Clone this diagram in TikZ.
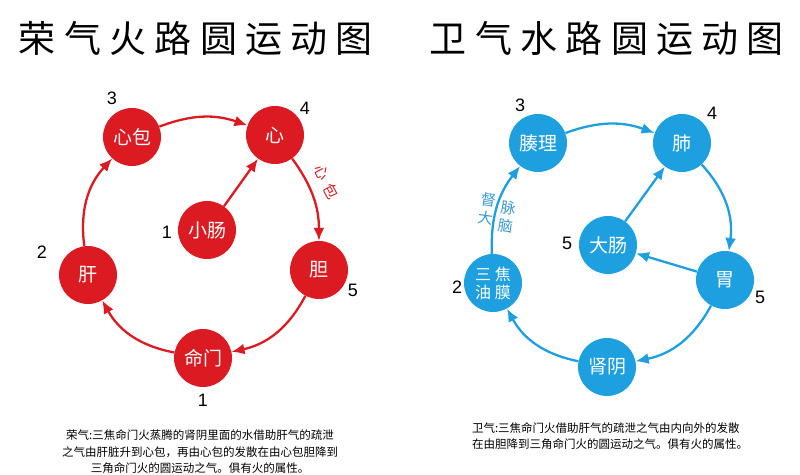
\documentclass[tikz,border=0pt]{standalone}
\usepackage{fontspec}
\usepackage{xcolor}
\setmainfont{Liberation Sans}
\newfontfamily\cjk{Noto Sans CJK SC}
\usetikzlibrary{arrows.meta}
\definecolor{yingred}{HTML}{DC1A22}
\definecolor{weiblue}{HTML}{1E9FDF}
\definecolor{labelblue}{HTML}{3A9ACF}

\tikzset{
  organ/.style={circle, fill=#1, minimum size=58pt, inner sep=0pt,
                text=white, font=\cjk\fontsize{19}{20}\selectfont, align=center},
  num/.style={font=\fontsize{18}{18}\selectfont},
  flow/.style={draw=#1, line width=2.3pt, -{Latex[length=13pt,width=11pt]}},
  title/.style={font=\cjk\fontsize{37}{37}\selectfont},
  note/.style={font=\cjk\fontsize{11.5}{16.5}\selectfont},
  pathlabel/.style={text=#1, inner sep=0pt, font=\cjk\fontsize{15}{15}\selectfont}
}

\begin{document}
\begin{tikzpicture}[x=1pt,y=1pt]
                \useasboundingbox (0,0) rectangle (800,474);

                % titles
                \node[title] (ytitle) at (196,436) {荣 气 火 路 圆 运 动 图};
                \node[title] (wtitle) at (607,436) {卫 气 水 路 圆 运 动 图};

                % ying qi, fire route
                \node[organ=yingred] (xinbao) at (132,337) {心包};
                \node[organ=yingred] (xin) at (275,339) {心};
                \node[organ=yingred] (xiaochang) at (207,244) {小肠};
                \node[organ=yingred] (gan) at (88,199) {肝};
                \node[organ=yingred] (dan) at (319,204) {胆};
                \node[organ=yingred] (mingmen) at (203,116) {命门};

                \node[num] (n3) at (112,376) {3};
                \node[num] (n4) at (305,366) {4};
                \node[num] (n1a) at (167,242) {1};
                \node[num] (n2) at (42,222) {2};
                \node[num] (n5) at (353,184) {5};
                \node[num] (n1b) at (203,74) {1};

                \draw[flow=yingred] (xinbao) to[bend left=20] (xin);
                \draw[flow=yingred] (xiaochang) -- (xin);
                \draw[flow=yingred] (xin) to[bend left=18] (dan);
                \draw[flow=yingred] (dan) to[bend left=25] (mingmen);
                \draw[flow=yingred] (mingmen) to[bend left=25] (gan);
                \draw[flow=yingred] (gan) to[bend left=25] (xinbao);
                \node[pathlabel=yingred, rotate=-62] (lxin) at (322,301) {心};
                \node[pathlabel=yingred, rotate=-62] (lbao) at (331,283) {包};

                \node[note, align=center] (ynote) at (200,22) {荣气:三焦命门火蒸腾的肾阴里面的水借助肝气的疏泄\\之气由肝脏升到心包，再由心包的发散在由心包胆降到\\三角命门火的圆运动之气。俱有火的属性。};

                % wei qi, water route
                \node[organ=weiblue] (couli) at (538,331) {腠理};
                \node[organ=weiblue] (fei) at (682,331) {肺};
                \node[organ=weiblue] (dachang) at (608,229) {大肠};
                \node[organ=weiblue, font=\cjk\fontsize{16}{18}\selectfont] (sanjiao) at (493,191) {三 焦\\油 膜};
                \node[organ=weiblue] (wei) at (725,194) {胃};
                \node[organ=weiblue] (shenyin) at (607,107) {肾阴};

                \node[num] (m3) at (520,369) {3};
                \node[num] (m4) at (712,361) {4};
                \node[num] (m5a) at (567,231) {5};
                \node[num] (m2) at (457,187) {2};
                \node[num] (m5b) at (760,177) {5};

                \draw[flow=weiblue] (couli) to[bend left=20] (fei);
                \draw[flow=weiblue] (dachang) -- (fei);
                \draw[flow=weiblue] (fei) to[bend left=25] (wei);
                \draw[flow=weiblue] (wei) -- (dachang);
                \draw[flow=weiblue] (wei) to[bend left=25] (shenyin);
                \draw[flow=weiblue] (shenyin) to[bend left=25] (sanjiao);
                \draw[flow=weiblue] (sanjiao) to[bend left=20] (couli);
                \node[text=labelblue, align=center, rotate=-8, font=\cjk\fontsize{15}{18}\selectfont] (ldu) at (487,265) {督\\大};
                \node[text=labelblue, align=center, rotate=-8, font=\cjk\fontsize{15}{18}\selectfont] (lmai) at (507,257) {脉\\脑};

                \node[note, align=left] (wnote) at (610,38) {卫气:三焦命门火借助肝气的疏泄之气由内向外的发散\\在由胆降到三角命门火的圆运动之气。俱有火的属性。};
\end{tikzpicture}
\end{document}
